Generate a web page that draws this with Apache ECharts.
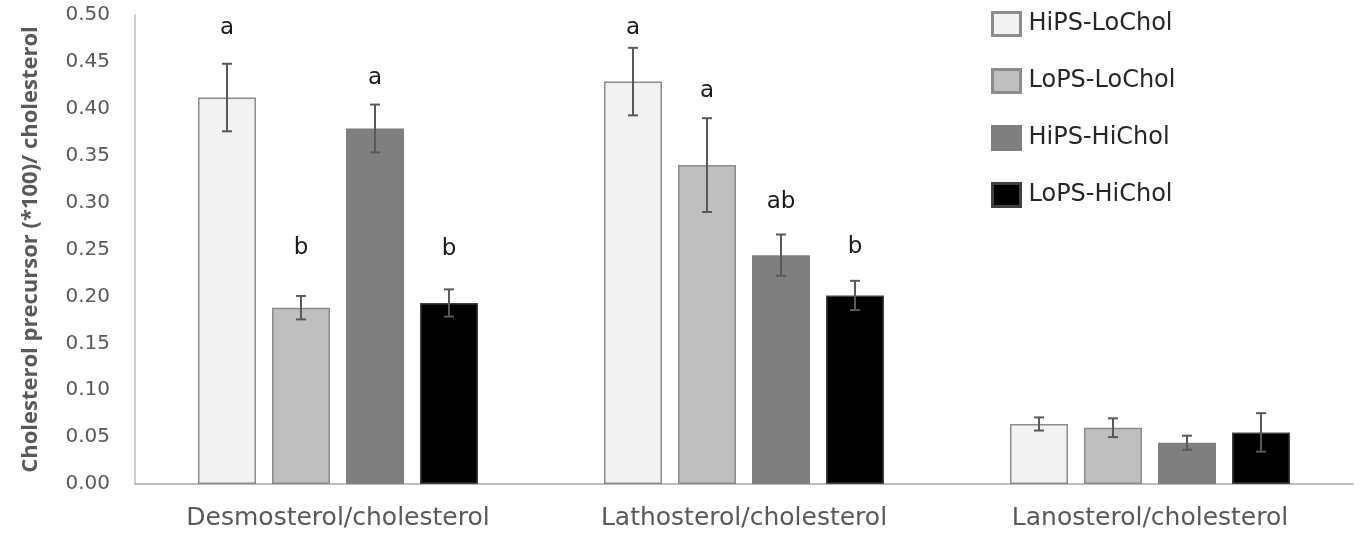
<!DOCTYPE html>
<html>
<head>
<meta charset="utf-8">
<script src="https://cdn.jsdelivr.net/npm/echarts@6/dist/echarts.min.js"></script>
<style>
html,body{margin:0;padding:0;background:#fff;}
#chart{width:1360px;height:535px;}
</style>
</head>
<body>
<div id="chart"></div>
<script>
// ---------- DATA ----------
var categories = ['Desmosterol/cholesterol', 'Lathosterol/cholesterol', 'Lanosterol/cholesterol'];
var seriesNames = ['HiPS-LoChol', 'LoPS-LoChol', 'HiPS-HiChol', 'LoPS-HiChol'];

var hipsLoChol = [0.412, 0.429, 0.064];
var lopsLoChol = [0.188, 0.340, 0.060];
var hipsHiChol = [0.379, 0.244, 0.044];
var lopsHiChol = [0.193, 0.201, 0.055];

var hipsLoCholErr = [0.036, 0.036, 0.007];
var lopsLoCholErr = [0.0125, 0.050, 0.010];
var hipsHiCholErr = [0.0255, 0.022, 0.0075];
var lopsHiCholErr = [0.0145, 0.0156, 0.0205];

var hipsLoCholLetters = ['a', 'a', ''];
var lopsLoCholLetters = ['b', 'a', ''];
var hipsHiCholLetters = ['a', 'ab', ''];
var lopsHiCholLetters = ['b', 'b', ''];

// level (in axis units) at which each significance letter is written
var hipsLoCholLetterLevel = [0.486, 0.486, null];
var lopsLoCholLetterLevel = [0.2516, 0.419, null];
var hipsHiCholLetterLevel = [0.433, 0.3006, null];
var lopsHiCholLetterLevel = [0.2505, 0.2527, null];

var yTickLabels = ['0.00','0.05','0.10','0.15','0.20','0.25','0.30','0.35','0.40','0.45','0.50'];

// ---------- STYLE ----------
var fills = ['#f2f2f2', '#bfbfbf', '#7f7f7f', '#000000'];
var borders = ['#8c8c8c', '#8c8c8c', '#7f7f7f', '#404040'];
var BAR_W = 58;
var BAR_GAP_PX = 16;
var FONT = 'DejaVu Sans';

var means = [hipsLoChol, lopsLoChol, hipsHiChol, lopsHiChol];
var errs = [hipsLoCholErr, lopsLoCholErr, hipsHiCholErr, lopsHiCholErr];
var letters = [hipsLoCholLetters, lopsLoCholLetters, hipsHiCholLetters, lopsHiCholLetters];
var levels = [hipsLoCholLetterLevel, lopsLoCholLetterLevel, hipsHiCholLetterLevel, lopsHiCholLetterLevel];

var series = [];
seriesNames.forEach(function (name, i) {
  series.push({
    name: name,
    type: 'bar',
    data: means[i],
    barWidth: BAR_W,
    barGap: (BAR_GAP_PX / BAR_W * 100).toFixed(1) + '%',
    itemStyle: { color: fills[i], borderColor: borders[i], borderWidth: 1.5 },
    emphasis: { disabled: true }
  });
});

seriesNames.forEach(function (name, i) {
  var d = categories.map(function (c, k) {
    return [k, means[i][k], errs[i][k], levels[i][k] == null ? 0 : levels[i][k]];
  });
  series.push({
    type: 'custom',
    silent: true,
    z: 10,
    data: d,
    renderItem: function (params, api) {
      var k = api.value(0);
      var m = api.value(1);
      var e = api.value(2);
      var lev = api.value(3);
      var offset = (i - 1.5) * (BAR_W + BAR_GAP_PX);
      var top = api.coord([k, m + e]);
      var bot = api.coord([k, m - e]);
      var x = top[0] + offset;
      var cap = 5;
      var sty = { stroke: '#595959', lineWidth: 2 };
      var children = [
        { type: 'line', shape: { x1: x, y1: top[1], x2: x, y2: bot[1] }, style: sty },
        { type: 'line', shape: { x1: x - cap, y1: top[1], x2: x + cap, y2: top[1] }, style: sty },
        { type: 'line', shape: { x1: x - cap, y1: bot[1], x2: x + cap, y2: bot[1] }, style: sty }
      ];
      var t = letters[i][k];
      if (t) {
        var lp = api.coord([k, lev]);
        children.push({
          type: 'text',
          style: {
            x: x, y: lp[1], text: t, fill: '#1a1a1a',
            font: '23px "' + FONT + '"', align: 'center', verticalAlign: 'middle'
          }
        });
      }
      return { type: 'group', children: children };
    }
  });
});

var chart = echarts.init(document.getElementById('chart'), null, { renderer: 'canvas' });
chart.setOption({
  animation: false,
  backgroundColor: '#ffffff',
  grid: { left: 135, right: 7, top: 15, bottom: 51, containLabel: false },
  legend: {
    data: seriesNames,
    orient: 'vertical',
    left: 986,
    top: 6,
    itemWidth: 28,
    itemHeight: 23,
    itemGap: 31,
    icon: 'rect',
    itemStyle: { borderWidth: 3 },
    selectedMode: false,
    textStyle: { fontFamily: FONT, fontSize: 24, color: '#262626', padding: [0, 0, 0, 3] }
  },
  xAxis: {
    type: 'category',
    data: categories,
    axisLine: { lineStyle: { color: '#a6a6a6', width: 1.5 } },
    axisTick: { show: false },
    axisLabel: { fontFamily: FONT, fontSize: 25, color: '#595959', margin: 22 }
  },
  yAxis: {
    type: 'value',
    min: 0,
    max: 0.5,
    interval: 0.05,
    name: 'Cholesterol precursor (*100)/ cholesterol',
    nameLocation: 'middle',
    nameGap: 93,
    nameTextStyle: { fontFamily: 'Open Sans', fontWeight: 'bold', fontSize: 22, color: '#595959' },
    axisLine: { show: true, lineStyle: { color: '#bfbfbf', width: 1.5 } },
    axisTick: { show: false },
    splitLine: { show: false },
    axisLabel: {
      fontFamily: FONT, fontSize: 20, color: '#595959', margin: 25,
      formatter: function (v) { return yTickLabels[Math.round(v / 0.05)]; }
    }
  },
  series: series
});
</script>
</body>
</html>
